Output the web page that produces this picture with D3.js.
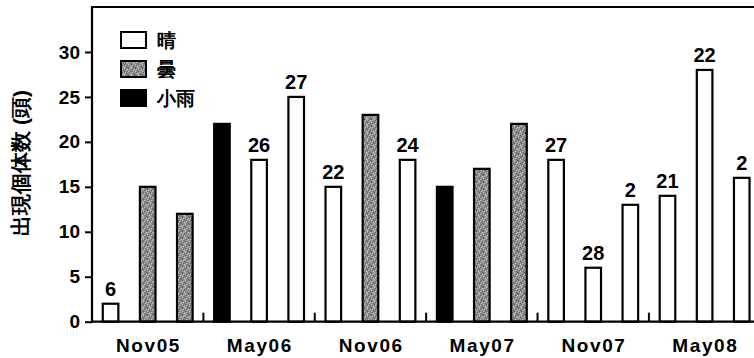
<!DOCTYPE html>
<html>
<head>
<meta charset="utf-8">
<script src="https://cdn.jsdelivr.net/npm/d3@7"></script>
<style>
html,body{margin:0;padding:0;background:#fff;}
svg{display:block;}
text{font-family:"Liberation Sans",Arial,sans-serif;}
</style>
</head>
<body>
<svg id="chart" width="754" height="358"></svg>
<script>
// ---- data ----
const dates = ["Nov05","May06","Nov06","May07","Nov07","May08"];
const weather = ["晴","曇","曇", "小雨","晴","晴", "晴","曇","晴", "小雨","曇","曇", "晴","晴","晴", "晴","晴","晴"];
const counts  = [2,15,12, 22,18,25, 15,23,18, 15,17,22, 18,6,13, 14,28,16];
const barLabels = ["6","","", "","26","27", "22","","24", "","","", "27","28","2", "21","22","2"];
const yTicks = [0,5,10,15,20,25,30];
const legendItems = ["晴","曇","小雨"];

const svg = d3.select("#chart");
const W = 754, H = 358;
const x0 = 92, y0 = 321.7, yTop = 7;

// gray stipple pattern (texture only)
const defs = svg.append("defs");
const pat = defs.append("pattern").attr("id","stipple").attr("patternUnits","userSpaceOnUse")
  .attr("width",7).attr("height",7);
pat.append("rect").attr("width",7).attr("height",7).attr("fill","#8f8f8f");
const dots = [[0,0,"#555"],[3,0,"#c4c4c4"],[5,0,"#6a6a6a"],[1,1,"#bdbdbd"],[4,1,"#5e5e5e"],[6,1,"#cfcfcf"],
  [2,2,"#626262"],[5,2,"#b8b8b8"],[0,3,"#c8c8c8"],[3,3,"#585858"],[6,3,"#6e6e6e"],[1,4,"#666"],
  [4,4,"#c2c2c2"],[2,5,"#d0d0d0"],[5,5,"#5a5a5a"],[0,6,"#707070"],[3,6,"#bbbbbb"],[6,6,"#5f5f5f"]];
dots.forEach(([px,py,c])=>pat.append("rect").attr("x",px).attr("y",py).attr("width",1).attr("height",1).attr("fill",c));

const fillFor = {"晴":"#fff","曇":"url(#stipple)","小雨":"#000"};

const x = d3.scaleBand().domain(d3.range(counts.length)).range([x0, 760.3]).paddingInner(0.58).paddingOuter(0.29);
const y = d3.scaleLinear().domain([0,35]).range([y0, yTop]);

// bars
svg.append("g").selectAll("rect").data(counts).join("rect")
  .attr("x",(d,i)=>x(i)).attr("width",x.bandwidth())
  .attr("y",d=>y(d)).attr("height",d=>y0-y(d))
  .attr("fill",(d,i)=>fillFor[weather[i]])
  .attr("stroke","#000").attr("stroke-width",2.2);

// bar value labels
svg.append("g").selectAll("text").data(counts).join("text")
  .attr("x",(d,i)=>x(i)+x.bandwidth()/2).attr("y",d=>y(d)-8)
  .attr("text-anchor","middle").attr("font-size",20).attr("font-weight","bold")
  .text((d,i)=>barLabels[i]);

// y axis
const yAxis = d3.axisLeft(y).tickValues(yTicks).tickSize(7).tickPadding(5);
const gy = svg.append("g").attr("transform",`translate(${x0},0)`).call(yAxis);
gy.select(".domain").remove();
gy.selectAll(".tick line").attr("stroke","#000").attr("stroke-width",2);
gy.selectAll(".tick text").attr("font-size",19).attr("font-weight","bold").attr("fill","#000")
  .attr("font-family","'Liberation Sans',Arial,sans-serif");

// frame: left line, top line, bottom axis
svg.append("line").attr("x1",x0).attr("x2",x0).attr("y1",yTop).attr("y2",y0+1).attr("stroke","#000").attr("stroke-width",2.2);
svg.append("line").attr("x1",x0-1).attr("x2",W).attr("y1",yTop).attr("y2",yTop).attr("stroke","#000").attr("stroke-width",2);
svg.append("line").attr("x1",x0-1).attr("x2",W).attr("y1",y0).attr("y2",y0).attr("stroke","#000").attr("stroke-width",2.2);

// group separator ticks (inward) and date labels
const gap = x.step()-x.bandwidth();
const groupIdx = d3.range(1, dates.length);
svg.append("g").selectAll("line").data(groupIdx).join("line")
  .attr("x1",g=>x(g*3)-gap/2).attr("x2",g=>x(g*3)-gap/2)
  .attr("y1",y0).attr("y2",y0-9).attr("stroke","#000").attr("stroke-width",2);

svg.append("g").selectAll("text").data(dates).join("text")
  .attr("x",(d,i)=>x(i*3+1)+x.bandwidth()/2+0.8).attr("y",352)
  .attr("text-anchor","middle").attr("font-size",19).attr("font-weight","bold")
  .attr("letter-spacing","1.6px")
  .text(d=>d);

// y axis title
svg.append("text").attr("transform","translate(28,163) rotate(-90)")
  .attr("text-anchor","middle").attr("font-size",21).attr("font-weight","bold")
  .attr("font-family","'Noto Sans CJK JP',sans-serif")
  .text("出現個体数 (頭)");

// legend
const lg = svg.append("g").attr("transform","translate(121,32)");
legendItems.forEach((k,i)=>{
  const g = lg.append("g").attr("transform",`translate(0,${i*29})`);
  g.append("rect").attr("width",25).attr("height",16).attr("fill",fillFor[k]).attr("stroke","#000").attr("stroke-width",2);
  g.append("text").attr("x",36).attr("y",8).attr("dy","0.36em").attr("font-size",19)
    .attr("font-family","'Noto Sans CJK JP',sans-serif").attr("font-weight","bold").text(k);
});
</script>
</body>
</html>
